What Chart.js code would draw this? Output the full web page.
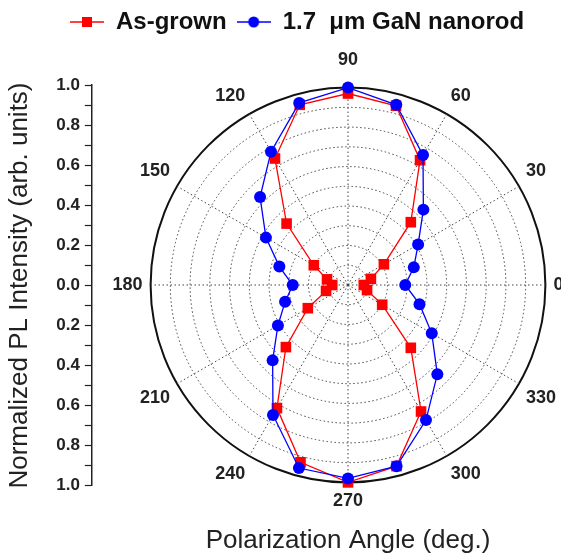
<!DOCTYPE html>
<html>
<head>
<meta charset="utf-8">
<script src="https://cdn.jsdelivr.net/npm/chart.js@4.4.0/dist/chart.umd.min.js"></script>
<style>
  html, body { margin: 0; padding: 0; background: #fff; overflow: hidden; }
  body { width: 561px; height: 553px; position: relative; }
  #polarBox { position: absolute; left: 60px; top: 0; width: 576px; height: 561px; }
  #axisBox { position: absolute; left: 0; top: 70px; width: 200px; height: 431px; }
</style>
</head>
<body>
<div id="axisBox"><canvas id="axisChart"></canvas></div>
<div id="polarBox"><canvas id="polarChart"></canvas></div>
<script>
// polarization angles (deg.)
const angles = [0, 15, 30, 45, 60, 75, 90, 105, 120, 135, 150, 165,
                180, 195, 210, 225, 240, 255, 270, 285, 300, 315, 330, 345];

// normalized PL intensity, one value per angle
const asGrown = [0.08, 0.12, 0.21, 0.45, 0.73, 0.94, 0.97, 0.945, 0.74, 0.44, 0.20, 0.11,
                 0.08, 0.115, 0.235, 0.445, 0.72, 0.93, 1.0, 0.95, 0.74, 0.45, 0.20, 0.10];
const nanorod = [0.29, 0.345, 0.41, 0.54, 0.76, 0.945, 1.0, 0.955, 0.78, 0.63, 0.48, 0.36,
                 0.28, 0.33, 0.41, 0.54, 0.76, 0.96, 0.98, 0.95, 0.79, 0.64, 0.49, 0.375];

const seriesNames = ["As-grown", "1.7  \u03bcm GaN nanorod"];
const axisTicks = [1.0, 0.8, 0.6, 0.4, 0.2, 0.0, 0.2, 0.4, 0.6, 0.8, 1.0];

const fontFamily = "'Liberation Sans', Arial, sans-serif";

// radar goes clockwise from 3 o'clock, so walk the angles backwards
const order = angles.map((a, i) => (angles.length - i) % angles.length);
const labels = order.map(i => String(angles[i]));
const redData = order.map(i => asGrown[i]);
const blueData = order.map(i => nanorod[i]);

// legend icon: short line with the marker on it
function legendIcon(color, shape) {
  const c = document.createElement("canvas");
  c.width = 34;
  c.height = 14;
  const g = c.getContext("2d");
  g.strokeStyle = color;
  g.lineWidth = 1.5;
  g.beginPath();
  g.moveTo(0, 7);
  g.lineTo(34, 7);
  g.stroke();
  g.fillStyle = color;
  if (shape === "rect") {
    g.fillRect(12, 2, 10, 10);
  } else {
    g.beginPath();
    g.arc(17, 7, 5.5, 0, Math.PI * 2);
    g.fill();
  }
  return c;
}

const polarCtx = document.getElementById("polarChart").getContext("2d");
const polarChart = new Chart(polarCtx, {
  type: "radar",
  data: {
    labels: labels,
    datasets: [
      {
        label: seriesNames[0],
        data: redData,
        borderColor: "#ff0000",
        backgroundColor: "#ff0000",
        borderWidth: 1.3,
        fill: false,
        pointStyle: "rect",
        pointRadius: 7.5,
        pointBorderWidth: 0,
        order: 1,
        icon: legendIcon("#ff0000", "rect"),
      },
      {
        label: seriesNames[1],
        data: blueData,
        borderColor: "#0000ff",
        backgroundColor: "#0000ff",
        borderWidth: 1.3,
        fill: false,
        pointStyle: "circle",
        pointRadius: 6,
        pointBorderWidth: 0,
        order: 0,
        icon: legendIcon("#0000ff", "circle"),
      },
    ],
  },
  options: {
    responsive: true,
    maintainAspectRatio: false,
    animation: false,
    layout: { padding: { top: 0, bottom: 0 } },
    scales: {
      r: {
        min: 0,
        max: 1,
        startAngle: 90,
        ticks: { display: false, stepSize: 0.1 },
        grid: {
          circular: true,
          color: (c) => (c.tick && c.tick.value >= 0.999 ? "#111" : "#444"),
          lineWidth: (c) => (c.tick && c.tick.value >= 0.999 ? 2 : 1),
        },
        border: {
          dash: (c) => (c.tick && c.tick.value >= 0.999 ? [] : [1.5, 2.5]),
        },
        angleLines: {
          color: "#444",
          borderDash: [1.5, 2.5],
          lineWidth: (c) => (c.index % 2 === 0 ? 1 : 0),
        },
        pointLabels: {
          padding: (c) => (c.label === "90" ? 17 : 8),
          color: "#222",
          font: { family: fontFamily, size: 18, weight: "bold" },
          callback: (label, index) => (index % 2 === 0 ? label : ""),
        },
      },
    },
    plugins: {
      tooltip: { enabled: false },
      legend: {
        position: "top",
        align: "start",
        labels: {
          usePointStyle: true,
          pointStyleWidth: 34,
          padding: 10,
          color: "#111",
          font: { family: fontFamily, size: 24, weight: "bold" },
          sort: (a, b) => a.datasetIndex - b.datasetIndex,
          generateLabels: (chart) => {
            const items = Chart.defaults.plugins.legend.labels.generateLabels(chart);
            items.forEach((it) => {
              it.pointStyle = chart.data.datasets[it.datasetIndex].icon;
            });
            return items;
          },
        },
      },
      title: {
        display: true,
        position: "bottom",
        text: "Polarization Angle (deg.)",
        color: "#222",
        font: { family: fontFamily, size: 26, weight: "normal" },
        padding: { top: 7, bottom: 5 },
      },
    },
  },
});

// left-hand intensity axis: 1.0 at top, 0.0 at centre, 1.0 at bottom
const axisCtx = document.getElementById("axisChart").getContext("2d");
const axisChart = new Chart(axisCtx, {
  type: "line",
  data: { labels: [], datasets: [] },
  options: {
    responsive: true,
    maintainAspectRatio: false,
    animation: false,
    layout: { padding: { top: 2, bottom: 2, left: 4, right: 2 } },
    plugins: { legend: { display: false }, tooltip: { enabled: false } },
    scales: {
      x: { display: false },
      y: {
        min: -1,
        max: 1,
        border: { display: true, color: "#222", width: 1.5 },
        grid: {
          drawOnChartArea: false,
          drawTicks: true,
          tickLength: 7,
          tickColor: "#222",
          tickWidth: 1.2,
        },
        ticks: {
          stepSize: 0.1,
          autoSkip: false,
          color: "#222",
          padding: 5,
          font: { family: fontFamily, size: 17, weight: "bold" },
          callback: (v) => {
            const k = Math.round(v * 10);
            return k % 2 === 0 ? axisTicks[(k + 10) / 2].toFixed(1) : "";
          },
        },
        title: {
          display: true,
          text: "Normalized PL Intensity (arb. units)",
          color: "#222",
          font: { family: fontFamily, size: 26, weight: "normal" },
          padding: { top: 0, bottom: 16 },
        },
      },
    },
  },
});
</script>
</body>
</html>
